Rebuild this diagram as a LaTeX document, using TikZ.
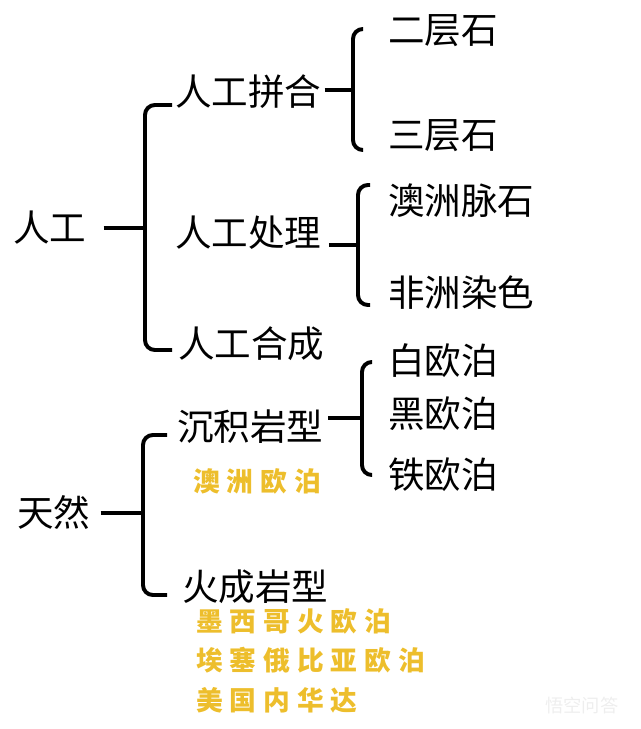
\documentclass[tikz,border=0pt]{standalone}
\usepackage{fontspec}
\usepackage{tikz}
\newfontfamily\cjk{Noto Sans CJK SC}
\newfontfamily\cjkgold[LetterSpace=26]{Noto Sans CJK SC}
\definecolor{gold}{HTML}{EDBE2C}
\definecolor{mark}{HTML}{EEEEEE}

\begin{document}
\begin{tikzpicture}[
  x=0.025cm,y=-0.025cm,
  item/.style={anchor=west,inner sep=0pt,font=\cjk\fontsize{26pt}{28pt}\selectfont},
  note/.style={anchor=west,inner sep=0pt,text=gold,font=\cjkgold\bfseries\fontsize{19pt}{21pt}\selectfont},
  brace/.style={draw=black,line width=2.8pt,rounded corners=7},
  stem/.style={draw=black,line width=2.8pt},
]
\useasboundingbox (0,0) rectangle (640,729);

% first level
\node[item] (rg) at (13,228) {人工};
\node[item] (tr) at (17,512) {天然};

% second level
\node[item] (pj) at (175,92) {人工拼合};
\node[item] (pr) at (175,233) {人工处理};
\node[item] (ps) at (178,344) {人工合成};
\node[item] (cj) at (177,427) {沉积岩型};
\node[item] (hc) at (182,587) {火成岩型};

% third level
\node[item] (ers) at (388,31) {二层石};
\node[item] (srs) at (388,136) {三层石};
\node[item] (amx) at (388,201) {澳洲脉石};
\node[item] (frs) at (388,293) {非洲染色};
\node[item] (bop) at (388,361) {白欧泊};
\node[item] (hop) at (388,414) {黑欧泊};
\node[item] (top) at (388,475) {铁欧泊};

% notes
\node[note] (aop) at (193,481) {澳洲欧泊};
\node[note] (mxo) at (196,621) {墨西哥火欧泊};
\node[note] (aio) at (196,660) {埃塞俄比亚欧泊};
\node[note] (usa) at (196,700) {美国内华达};

\node[anchor=west,inner sep=0pt,text=mark,font=\cjk\fontsize{13pt}{14pt}\selectfont] (wm) at (545,705) {悟空问答};

% braces
\coordinate (m1) at (145,228);
\coordinate (m1t) at (172,105);
\coordinate (m1b) at (172,350);
\draw[stem,shorten <=12pt] (rg.east) -- (m1);
\draw[brace] (m1t) -| (m1) |- (m1b);

\coordinate (m2) at (353,90);
\coordinate (m2t) at (363,29);
\coordinate (m2b) at (363,150);
\draw[stem,shorten <=2pt] (pj.east |- m2) -- (m2);
\draw[brace] (m2t) -| (m2) |- (m2b);

\coordinate (m3) at (358,245);
\coordinate (m3t) at (370,185);
\coordinate (m3b) at (370,305);
\draw[stem,shorten <=5pt] (pr.east |- m3) -- (m3);
\draw[brace] (m3t) -| (m3) |- (m3b);

\coordinate (m4) at (143,513);
\coordinate (m4t) at (167,435);
\coordinate (m4b) at (167,595);
\draw[stem,shorten <=7pt] (tr.east |- m4) -- (m4);
\draw[brace] (m4t) -| (m4) |- (m4b);

\coordinate (m5) at (362,418);
\coordinate (m5t) at (372,362);
\coordinate (m5b) at (372,475);
\draw[stem,shorten <=3pt] (cj.east |- m5) -- (m5);
\draw[brace] (m5t) -| (m5) |- (m5b);
\end{tikzpicture}
\end{document}
